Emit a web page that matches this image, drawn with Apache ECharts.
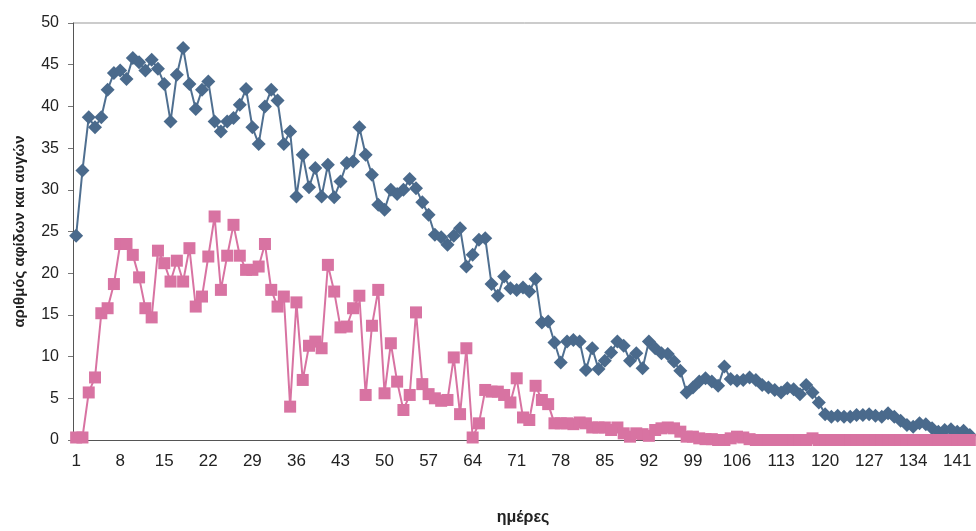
<!DOCTYPE html>
<html><head><meta charset="utf-8">
<script src="https://cdn.jsdelivr.net/npm/echarts@6/dist/echarts.min.js"></script>
<style>html,body{margin:0;padding:0;background:#fff}#c{width:976px;height:531px}</style>
</head><body><div id="c"></div>
<script>
const days = [];
for (let i = 1; i <= 143; i++) days.push(String(i));

const aphids = [
24.5,32.3,38.7,37.5,38.7,42,44,44.3,43.3,45.8,
45.3,44.3,45.6,44.5,42.7,38.2,43.8,47,42.7,39.7,
42,43,38.2,37,38.2,38.6,40.2,42.1,37.5,35.5,
40,42,40.7,35.5,37,29.2,34.2,30.3,32.6,29.2,
33,29.1,31,33.2,33.4,37.5,34.2,31.8,28.2,27.6,
30,29.5,30,31.3,30.2,28.5,27,24.6,24.3,23.4,
24.5,25.4,20.8,22.2,24,24.2,18.7,17.3,19.6,18.2,
18,18.3,17.8,19.3,14.1,14.2,11.7,9.3,11.8,12,
11.8,8.4,11,8.5,9.5,10.5,11.8,11.3,9.5,10.4,
8.6,11.8,11,10.4,10.3,9.4,8.3,5.7,6.3,7,
7.4,7,6.5,8.8,7.3,7.1,7.2,7.5,7.2,6.6,
6.3,6,5.7,6.2,6.1,5.5,6.6,5.7,4.5,3.1,
2.8,2.9,2.8,2.8,3,3,3.1,2.9,2.8,3.2,
2.8,2.3,1.8,1.6,2,1.9,1.4,1.0,1.2,1.3,
1.0,1.1,0.6
];

const eggs = [
0.3,0.3,5.7,7.5,15.2,15.8,18.7,23.5,23.5,22.2,
19.5,15.8,14.7,22.7,21.2,19,21.5,19,23,16,
17.2,22,26.8,18,22.1,25.8,22.1,20.4,20.4,20.8,
23.5,18,16,17.2,4,16.5,7.2,11.3,11.8,11,
21,17.8,13.5,13.6,15.8,17.3,5.4,13.7,18,5.6,
11.6,7,3.6,5.4,15.3,6.7,5.5,5,4.7,4.8,
9.9,3.1,11,0.3,2,6,5.8,5.8,5.4,4.5,
7.4,2.7,2.4,6.5,4.8,4.3,2,2,2,1.9,
2.1,2,1.5,1.5,1.5,1.2,1.5,0.8,0.4,0.8,
0.7,0.5,1.2,1.4,1.5,1.4,1.0,0.4,0.4,0.2,
0.1,0.1,0,0,0.2,0.4,0.3,0.1,0,0,
0,0,0,0,0,0,0,0.2,0,0,
0,0,0,0,0,0,0,0,0,0,
0,0,0,0,0,0,0,0,0,0,
0,0,0
];

const yTicks = [0,5,10,15,20,25,30,35,40,45,50];

const chart = echarts.init(document.getElementById('c'));
chart.setOption({
  animation: false,
  backgroundColor: '#fff',
  grid: { left: 73, right: 3, top: 23, bottom: 82 },
  xAxis: {
    type: 'category', data: days, boundaryGap: true,
    name: 'ημέρες', nameLocation: 'middle', nameGap: 70,
    nameTextStyle: { fontFamily: 'Liberation Sans Narrow, Liberation Sans, Arial', fontWeight: 'bold', fontSize: 16, color: '#222' },
    axisLine: { lineStyle: { color: '#555', width: 1 } },
    axisTick: { interval: 0, length: 4, lineStyle: { color: '#777' } },
    axisLabel: { interval: 6, margin: 13, fontSize: 17, color: '#222', fontFamily: 'Liberation Sans Narrow, Liberation Sans, Arial' }
  },
  yAxis: {
    type: 'value', min: 0, max: 50, interval: 5,
    name: 'αριθμός αφίδων και αυγών', nameLocation: 'middle', nameGap: 46, nameRotate: 90,
    nameTextStyle: { fontFamily: 'Liberation Sans, Arial', fontWeight: 'bold', fontSize: 15, color: '#222' },
    axisLine: { show: true, lineStyle: { color: '#555' } },
    axisTick: { show: true, length: 5, lineStyle: { color: '#777' } },
    axisLabel: { fontSize: 16, color: '#222', margin: 14, fontFamily: 'Liberation Sans, Arial',
      formatter: v => yTicks.indexOf(v) >= 0 ? String(v) : '' },
    splitLine: { show: false }
  },
  graphic: [{ type: 'line', shape: { x1: 73, y1: 23, x2: 976, y2: 23 }, style: { stroke: '#999', lineWidth: 1 } }],
  series: [
    { name: 'αφίδες', type: 'line', data: aphids, symbol: 'diamond', symbolSize: 14, showAllSymbol: true,
      lineStyle: { color: '#4f6f90', width: 2 }, itemStyle: { color: '#4a6a8c' } },
    { name: 'αυγά', type: 'line', data: eggs, symbol: 'rect', symbolSize: 12, showAllSymbol: true,
      lineStyle: { color: '#d873a2', width: 2 }, itemStyle: { color: '#d873a2' } }
  ]
});
</script></body></html>
